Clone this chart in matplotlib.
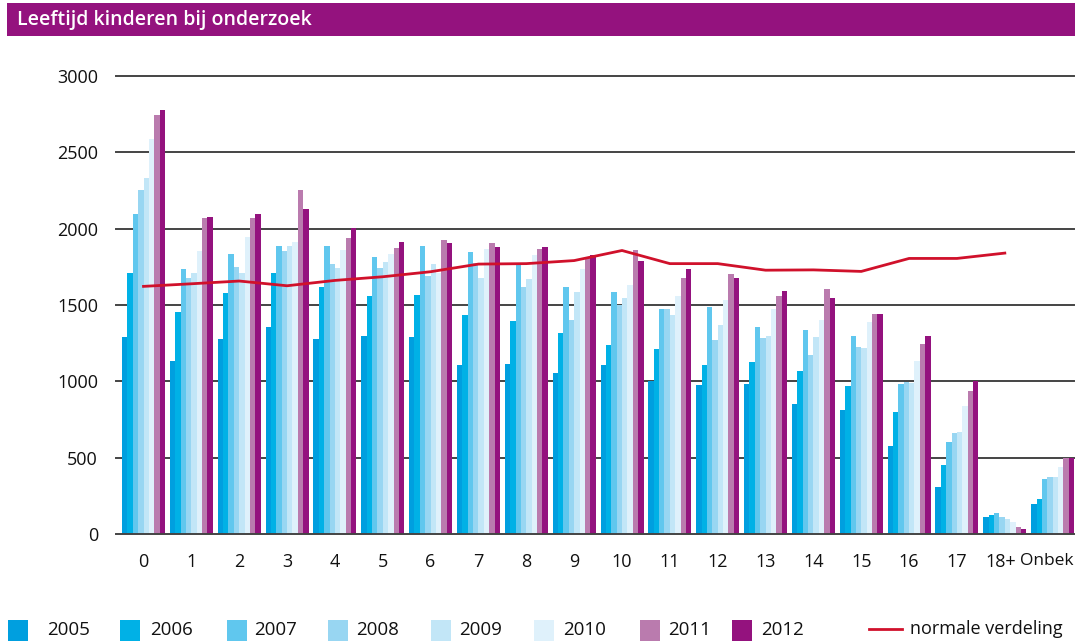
import numpy as np
import matplotlib
matplotlib.use("Agg")
import matplotlib.pyplot as plt
from matplotlib.patches import Rectangle
from matplotlib.lines import Line2D
from matplotlib.transforms import ScaledTranslation

# ---- data ----
categories = ["0", "1", "2", "3", "4", "5", "6", "7", "8", "9", "10",
              "11", "12", "13", "14", "15", "16", "17", "18+", "Onbek"]
years = ["2005", "2006", "2007", "2008", "2009", "2010", "2011", "2012"]

v2005 = [1290, 1133, 1277, 1356, 1277, 1297, 1290, 1107, 1111, 1052, 1105, 1000, 974, 981, 853, 813, 577, 308, 111, 197]
v2006 = [1710, 1454, 1578, 1709, 1618, 1559, 1565, 1434, 1392, 1314, 1235, 1209, 1105, 1124, 1069, 971, 800, 453, 125, 230]
v2007 = [2096, 1736, 1834, 1886, 1886, 1814, 1886, 1847, 1759, 1621, 1588, 1477, 1484, 1353, 1338, 1298, 984, 603, 138, 361]
v2008 = [2253, 1677, 1749, 1853, 1768, 1742, 1690, 1775, 1621, 1405, 1497, 1477, 1268, 1281, 1174, 1226, 997, 662, 111, 374]
v2009 = [2332, 1709, 1709, 1886, 1742, 1781, 1768, 1675, 1673, 1588, 1543, 1432, 1366, 1294, 1292, 1220, 990, 669, 98, 374]
v2010 = [2587, 1853, 1945, 1912, 1860, 1834, 1709, 1865, 1830, 1739, 1634, 1556, 1536, 1477, 1403, 1390, 1135, 839, 79, 439]
v2011 = [2744, 2070, 2070, 2253, 1939, 1873, 1925, 1904, 1870, 1817, 1857, 1680, 1706, 1562, 1607, 1443, 1246, 938, 46, 498]
v2012 = [2777, 2076, 2096, 2128, 2004, 1912, 1906, 1883, 1883, 1825, 1785, 1739, 1680, 1590, 1548, 1443, 1298, 1003, 33, 498]

normale_verdeling = [1622, 1639, 1657, 1626, 1661, 1685, 1718, 1768, 1771, 1791,
                     1857, 1771, 1771, 1728, 1730, 1720, 1805, 1805, 1840]

yticks = [0, 500, 1000, 1500, 2000, 2500, 3000]
title = "Leeftijd kinderen bij onderzoek"
line_label = "normale verdeling"

series = [v2005, v2006, v2007, v2008, v2009, v2010, v2011, v2012]
colors = ["#009FDF", "#00B1E6", "#60C7EE", "#98D6F2", "#C2E6F7", "#DFF1FB", "#BA7BAE", "#94127E"]
line_color = "#D0112B"
purple = "#94127E"

font = ["Open Sans", "DejaVu Sans"]
plt.rcParams["font.family"] = font

W, H = 1077, 641
fig = plt.figure(figsize=(W / 100, H / 100), dpi=100)

# title bar
fig.patches.append(Rectangle((7 / W, 1 - 36 / H), (1075 - 7) / W, 33 / H,
                             transform=fig.transFigure, facecolor=purple,
                             edgecolor="none", zorder=0))
fig.text(17 / W, 1 - 19.5 / H, title, color="white", fontsize=14,
         fontweight="semibold", va="center", ha="left")

ax_left, ax_right = 116, 1074
ax_top, ax_bot = 76, 534
ax = fig.add_axes([ax_left / W, 1 - ax_bot / H, (ax_right - ax_left) / W, (ax_bot - ax_top) / H])

x = np.arange(len(categories))
bw = 0.1123
for j, (vals, c) in enumerate(zip(series, colors)):
    ax.bar(x + (j - 3.5) * bw, vals, width=bw, color=c, linewidth=0, zorder=2)

xl = np.arange(len(normale_verdeling))
ax.plot(xl, normale_verdeling, color=line_color, lw=2.0, zorder=4, solid_joinstyle="round")

ax.set_ylim(0, 3000)
ax.set_xlim(-0.575, 19.446)
ax.set_yticks(yticks)
for yv in yticks:
    ax.plot([0, 1], [yv, yv], transform=ax.get_yaxis_transform(), color="#444444",
            lw=1.4, zorder=1.5 if yv > 0 else 5, clip_on=False)

ax.set_yticklabels([str(v) for v in yticks], fontsize=13, color="#111111")
ax.tick_params(axis="y", length=0, pad=13)
ax.set_xticks(x)
ax.set_xticklabels(categories, fontsize=13, color="#111111")
ax.tick_params(axis="x", length=0, pad=14)
for s in ax.spines.values():
    s.set_visible(False)
ax.set_facecolor("none")

xlabels = ax.get_xticklabels()
xlabels[-2].set_transform(xlabels[-2].get_transform() + ScaledTranslation(-4 / 100, 0, fig.dpi_scale_trans))
xlabels[-1].set_transform(xlabels[-1].get_transform() + ScaledTranslation(-6 / 100, 0, fig.dpi_scale_trans))
xlabels[-1].set_fontsize(12.5)

# legend (manual)
sq_x = [8, 120, 227, 328, 431, 534, 640, 732]
txt_x = [47, 150, 254, 356, 459, 563, 668, 761]
for yr, c, sx, tx in zip(years, colors, sq_x, txt_x):
    fig.patches.append(Rectangle((sx / W, 0), 20 / W, 21 / H, transform=fig.transFigure,
                                 facecolor=c, edgecolor="none"))
    fig.text(tx / W, 1 - 630 / H, yr, fontsize=13.5, color="#111111", va="center", ha="left")
fig.lines.append(Line2D([869 / W, 902 / W], [1 - 629 / H, 1 - 629 / H], transform=fig.transFigure,
                        color=line_color, lw=2.0))
fig.text(910 / W, 1 - 629 / H, line_label, fontsize=13, color="#111111", va="center", ha="left")

fig.savefig("out.png", dpi=100)
